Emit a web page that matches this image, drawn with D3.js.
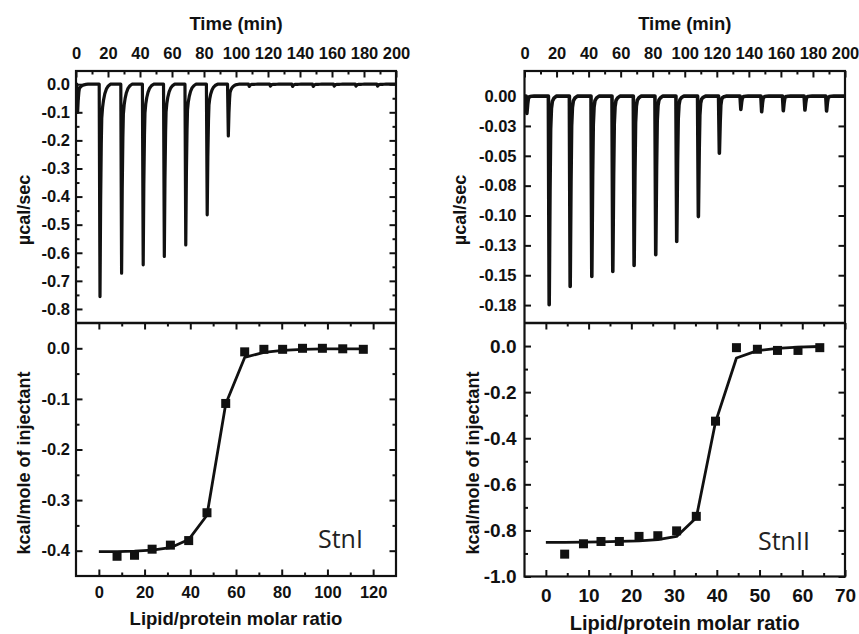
<!DOCTYPE html>
<html>
<head>
<meta charset="utf-8">
<script src="https://cdn.jsdelivr.net/npm/d3@7"></script>
<style>
  html, body { margin: 0; padding: 0; background: #fff; }
  svg { display: block; }
  .tick text { font-family: "Liberation Sans", Arial, sans-serif; font-weight: bold; fill: #111; }
  .ttl { font-family: "Liberation Sans", Arial, sans-serif; font-weight: bold; fill: #111; }
</style>
</head>
<body>
<svg id="chart" width="859" height="634"></svg>
<script>
// ---------------- DATA ----------------
// raw thermogram: injection times (min) and peak minima (µcal/sec)
const stnI_injTime  = [1.0, 15.0, 28.5, 42.0, 55.2, 68.6, 82.0, 95.2, 108.3, 121.5, 135.4, 148.3, 161.4, 175.0, 188.5];
const stnI_peak     = [-0.100, -0.756, -0.673, -0.643, -0.613, -0.572, -0.465, -0.184, -0.008, -0.007, -0.008, -0.008, -0.007, -0.007, -0.007];
const stnII_injTime = [1.5, 15.4, 28.5, 42.0, 55.1, 68.4, 81.9, 95.0, 108.5, 121.6, 135.0, 148.0, 161.5, 175.0, 188.5];
const stnII_peak    = [-0.0145, -0.1747, -0.1594, -0.1510, -0.1469, -0.1418, -0.1329, -0.1218, -0.1009, -0.0479, -0.0111, -0.0131, -0.0123, -0.0117, -0.0125];
// peak shapes: minutes after injection, fraction of the peak minimum
const stnI_profileOffset    = [-0.5, 0.0, 0.4, 0.8, 1.1, 1.6, 2.2, 3.0, 4.0, 5.2, 6.5];
const stnI_profileFraction  = [0, 1, 0.55, 0.28, 0.16, 0.11, 0.075, 0.045, 0.022, 0.008, 0];
const stnII_profileOffset   = [-0.5, 0.0, 0.5, 0.9, 1.4, 2.0, 3.0, 4.5];
const stnII_profileFraction = [0, 1, 0.45, 0.16, 0.06, 0.025, 0.01, 0];

// integrated heats (kcal/mole of injectant) vs lipid/protein molar ratio
const stnI_ratio  = [7.96, 15.6, 23.3, 31.3, 39.3, 47.3, 55.5, 63.8, 72.2, 80.4, 89.1, 97.8, 106.7, 115.7];
const stnI_heat   = [-0.411, -0.409, -0.397, -0.389, -0.380, -0.325, -0.109, -0.007, -0.002, -0.002, 0.000, 0.000, -0.001, -0.002];
const stnI_fitX   = [0, 7.96, 15.6, 23.3, 31.3, 39.3, 47.3, 55.5, 63.8, 72.2, 80.4, 89.1, 97.8, 106.7, 115.7];
const stnI_fitY   = [-0.402, -0.402, -0.401, -0.399, -0.394, -0.378, -0.330, -0.110, -0.018, -0.008, -0.004, -0.002, -0.001, -0.001, -0.001];

const stnII_ratio = [4.4, 8.8, 12.9, 17.2, 21.8, 26.2, 30.6, 35.2, 39.7, 44.6, 49.5, 54.2, 59.0, 64.1];
const stnII_heat  = [-0.903, -0.858, -0.848, -0.848, -0.826, -0.823, -0.802, -0.739, -0.326, -0.007, -0.014, -0.019, -0.019, -0.007];
const stnII_fitX  = [0, 4.4, 8.8, 12.9, 17.2, 21.8, 26.2, 30.6, 35.2, 39.7, 44.6, 49.5, 54.2, 59.0, 64.1];
const stnII_fitY  = [-0.852, -0.852, -0.851, -0.850, -0.848, -0.845, -0.840, -0.826, -0.745, -0.330, -0.052, -0.020, -0.010, -0.005, -0.002];

// ticks
const timeTicks       = [0, 20, 40, 60, 80, 100, 120, 140, 160, 180, 200];
const timeMinor       = [10, 30, 50, 70, 90, 110, 130, 150, 170, 190];
const stnI_topYTicks  = [0.0, -0.1, -0.2, -0.3, -0.4, -0.5, -0.6, -0.7, -0.8];
const stnI_topYLabels = ["0.0", "-0.1", "-0.2", "-0.3", "-0.4", "-0.5", "-0.6", "-0.7", "-0.8"];
const stnI_topYMinor  = [-0.05, -0.15, -0.25, -0.35, -0.45, -0.55, -0.65, -0.75];
const stnII_topYTicks = [0.0, -0.025, -0.05, -0.075, -0.1, -0.125, -0.15, -0.175];
const stnII_topYLabels= ["0.00", "-0.03", "-0.05", "-0.08", "-0.10", "-0.13", "-0.15", "-0.18"];
const stnI_xTicks     = [0, 20, 40, 60, 80, 100, 120];
const stnI_xMinor     = [10, 30, 50, 70, 90, 110];
const stnI_yTicks     = [0.0, -0.1, -0.2, -0.3, -0.4];
const stnI_yLabels    = ["0.0", "-0.1", "-0.2", "-0.3", "-0.4"];
const stnI_yMinor     = [-0.05, -0.15, -0.25, -0.35];
const stnII_xTicks    = [0, 10, 20, 30, 40, 50, 60, 70];
const stnII_xMinor    = [5, 15, 25, 35, 45, 55, 65];
const stnII_yTicks    = [0.0, -0.2, -0.4, -0.6, -0.8, -1.0];
const stnII_yLabels   = ["0.0", "-0.2", "-0.4", "-0.6", "-0.8", "-1.0"];
const stnII_yMinor    = [-0.1, -0.3, -0.5, -0.7, -0.9];

// ---------------- DRAW ----------------
const svg = d3.select("#chart");

function buildTrace(times, peaks, offs, fracs) {
  const pts = [[0, 0]];
  times.forEach((t, i) => {
    offs.forEach((o, j) => pts.push([t + o, peaks[i] * fracs[j]]));
  });
  pts.push([200, 0]);
  return pts;
}

function panel(cfg) {
  const g = svg.append("g");
  const x0 = cfg.x0, x1 = cfg.x1, yT = 71, yM = 323, yB = cfg.yB;
  const xt = d3.scaleLinear().domain([0, 200]).range([x0, x1]);
  const yt = d3.scaleLinear().domain(cfg.topDomain).range([yM, yT]);
  const xb = d3.scaleLinear().domain(cfg.botXDomain).range([x0, x1]);
  const yb = d3.scaleLinear().domain(cfg.botYDomain).range([yB, yM]);
  const MAJ = 6.5, MIN = 3.5;

  function ax(gen, tx, ty, fs) {
    const a = g.append("g").attr("transform", `translate(${tx},${ty})`).call(gen);
    a.select(".domain").remove();
    a.selectAll(".tick line").attr("stroke", "#111").attr("stroke-width", 2);
    a.selectAll(".tick text").style("font-size", fs + "px");
    return a;
  }
  const noLab = () => "";

  const cid = "clip" + cfg.id;
  svg.append("clipPath").attr("id", cid).append("rect")
    .attr("x", x0).attr("y", yT).attr("width", x1 - x0).attr("height", yM - yT);

  // raw trace
  const trace = buildTrace(cfg.injTime, cfg.peak, cfg.profOff, cfg.profFrac);
  g.append("path").datum(trace)
    .attr("clip-path", `url(#${cid})`)
    .attr("fill", "none").attr("stroke", "#111").attr("stroke-width", cfg.traceW)
    .attr("stroke-linejoin", "round").attr("stroke-linecap", "round")
    .attr("d", d3.line().x(d => xt(d[0])).y(d => yt(d[1])));

  // top panel axes
  ax(d3.axisTop(xt).tickValues(timeTicks).tickSize(-MAJ).tickPadding(cfg.timePad).tickFormat(d3.format("d")), 0, yT, cfg.topFs);
  ax(d3.axisTop(xt).tickValues(timeMinor).tickSize(-MIN).tickFormat(noLab), 0, yT, cfg.topFs);
  ax(d3.axisLeft(yt).tickValues(cfg.topYTicks).tickSize(-MAJ).tickPadding(cfg.topYPad).tickFormat((d, i) => cfg.topYLabels[i]), x0, 0, cfg.topFs);
  ax(d3.axisRight(yt).tickValues(cfg.topYTicks).tickSize(-MAJ).tickFormat(noLab), x1, 0, cfg.topFs);
  if (cfg.topYMinor) {
    ax(d3.axisLeft(yt).tickValues(cfg.topYMinor).tickSize(-MIN).tickFormat(noLab), x0, 0, cfg.topFs);
    ax(d3.axisRight(yt).tickValues(cfg.topYMinor).tickSize(-MIN).tickFormat(noLab), x1, 0, cfg.topFs);
  }

  // bottom panel
  g.append("path").datum(cfg.fitX.map((v, i) => [v, cfg.fitY[i]]))
    .attr("fill", "none").attr("stroke", "#111").attr("stroke-width", 2.8)
    .attr("stroke-linejoin", "round")
    .attr("d", d3.line().x(d => xb(d[0])).y(d => yb(d[1])));
  const S = 9;
  g.selectAll("rect.pt").data(cfg.ratio.map((v, i) => [v, cfg.heat[i]])).enter()
    .append("rect").attr("class", "pt")
    .attr("x", d => xb(d[0]) - S / 2).attr("y", d => yb(d[1]) - S / 2)
    .attr("width", S).attr("height", S).attr("fill", "#111");

  ax(d3.axisBottom(xb).tickValues(cfg.botXTicks).tickSize(-MAJ).tickPadding(cfg.botXPad).tickFormat(d3.format("d")), 0, yB, cfg.botFs);
  ax(d3.axisBottom(xb).tickValues(cfg.botXMinor).tickSize(-MIN).tickFormat(noLab), 0, yB, cfg.botFs);
  ax(d3.axisTop(xb).tickValues(cfg.botXTicks).tickSize(-MAJ).tickFormat(noLab), 0, yM, cfg.botFs);
  ax(d3.axisTop(xb).tickValues(cfg.botXMinor).tickSize(-MIN).tickFormat(noLab), 0, yM, cfg.botFs);
  ax(d3.axisLeft(yb).tickValues(cfg.botYTicks).tickSize(-MAJ).tickPadding(cfg.botYPad).tickFormat((d, i) => cfg.botYLabels[i]), x0, 0, cfg.botFs);
  ax(d3.axisLeft(yb).tickValues(cfg.botYMinor).tickSize(-MIN).tickFormat(noLab), x0, 0, cfg.botFs);
  ax(d3.axisRight(yb).tickValues(cfg.botYTicks).tickSize(-MAJ).tickFormat(noLab), x1, 0, cfg.botFs);
  ax(d3.axisRight(yb).tickValues(cfg.botYMinor).tickSize(-MIN).tickFormat(noLab), x1, 0, cfg.botFs);

  // frames
  g.append("rect").attr("x", x0).attr("y", yT).attr("width", x1 - x0).attr("height", yB - yT)
    .attr("fill", "none").attr("stroke", "#111").attr("stroke-width", 2.2);
  g.append("line").attr("x1", x0).attr("x2", x1).attr("y1", yM).attr("y2", yM)
    .attr("stroke", "#111").attr("stroke-width", 2.4);

  // titles
  const cx = (x0 + x1) / 2;
  g.append("text").attr("class", "ttl").attr("x", cx).attr("y", 30).attr("text-anchor", "middle")
    .style("font-size", "18.5px").text("Time (min)");
  g.append("text").attr("class", "ttl").attr("x", cx).attr("y", cfg.xTitleY).attr("text-anchor", "middle")
    .style("font-size", cfg.xTitleFs + "px").text("Lipid/protein molar ratio");
  g.append("text").attr("class", "ttl").attr("text-anchor", "middle")
    .attr("transform", `translate(${cfg.topYTitleX},210) rotate(-90)`)
    .style("font-size", "18px").text("µcal/sec");
  g.append("text").attr("class", "ttl").attr("text-anchor", "middle")
    .attr("transform", `translate(${cfg.botYTitleX},463) rotate(-90)`)
    .style("font-size", "18px").text("kcal/mole of injectant");
  g.append("text").attr("x", cfg.nameX).attr("y", cfg.nameY)
    .style("font-family", '"Open Sans", "Noto Sans", sans-serif').style("font-size", "25px")
    .attr("fill", "#222").text(cfg.name);
}

panel({
  id: 1, x0: 76, x1: 396, yB: 576,
  topDomain: [-0.85, 0.047], botXDomain: [-10, 130], botYDomain: [-0.45, 0.05],
  injTime: stnI_injTime, peak: stnI_peak, traceW: 3.2,
  profOff: stnI_profileOffset, profFrac: stnI_profileFraction,
  topYTicks: stnI_topYTicks, topYLabels: stnI_topYLabels, topYMinor: stnI_topYMinor,
  ratio: stnI_ratio, heat: stnI_heat, fitX: stnI_fitX, fitY: stnI_fitY,
  botXTicks: stnI_xTicks, botXMinor: stnI_xMinor,
  botYTicks: stnI_yTicks, botYLabels: stnI_yLabels, botYMinor: stnI_yMinor,
  topFs: 16.5, botFs: 16.5, timePad: 12, topYPad: 6, botXPad: 10, botYPad: 6,
  xTitleY: 625, xTitleFs: 18.5, topYTitleX: 30, botYTitleX: 30,
  name: "StnI", nameX: 318, nameY: 548
});

panel({
  id: 2, x0: 524.5, x1: 845, yB: 576.5,
  topDomain: [-0.19, 0.021], botXDomain: [-5, 70], botYDomain: [-1.0, 0.1],
  injTime: stnII_injTime, peak: stnII_peak, traceW: 3.6,
  profOff: stnII_profileOffset, profFrac: stnII_profileFraction,
  topYTicks: stnII_topYTicks, topYLabels: stnII_topYLabels, topYMinor: null,
  ratio: stnII_ratio, heat: stnII_heat, fitX: stnII_fitX, fitY: stnII_fitY,
  botXTicks: stnII_xTicks, botXMinor: stnII_xMinor,
  botYTicks: stnII_yTicks, botYLabels: stnII_yLabels, botYMinor: stnII_yMinor,
  topFs: 16.5, botFs: 19, timePad: 12, topYPad: 8, botXPad: 12, botYPad: 8,
  xTitleY: 630, xTitleFs: 20, topYTitleX: 466, botYTitleX: 479,
  name: "StnII", nameX: 758, nameY: 550
});
</script>
</body>
</html>
